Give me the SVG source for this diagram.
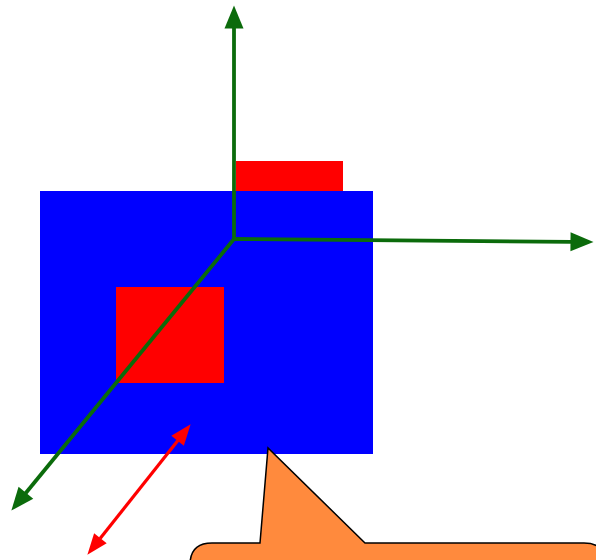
<svg xmlns="http://www.w3.org/2000/svg" width="596" height="560" viewBox="0 0 596 560">
<style>
.ax{stroke:#0b6b0b;stroke-width:3.8;fill:none}
.rd{stroke:#ff0000;stroke-width:3.2;fill:none}
</style>
<defs>
<marker id="ga" markerUnits="userSpaceOnUse" markerWidth="26" markerHeight="22" viewBox="0 -11 24 22" refX="0.5" refY="0" orient="auto">
<path d="M0,-9.5 L23,0 L0,9.5 z" fill="#0b6b0b"/>
</marker>
<marker id="ra" markerUnits="userSpaceOnUse" markerWidth="23" markerHeight="20" viewBox="0 -10 22 20" refX="0.5" refY="0" orient="auto">
<path d="M0,-8 L21,0 L0,8 z" fill="#ff0000"/>
</marker>
<marker id="rs" markerUnits="userSpaceOnUse" markerWidth="23" markerHeight="20" viewBox="0 -10 22 20" refX="21.5" refY="0" orient="auto">
<path d="M22,-8 L1,0 L22,8 z" fill="#ff0000"/>
</marker>
</defs>
<g id="topRect"><rect x="236" y="161" width="107" height="31" fill="#ff0000"/></g>
<g id="blueRect"><rect x="40" y="191" width="333" height="263" fill="#0000ff"/></g>
<g id="redSquare"><rect x="116" y="287" width="108" height="96" fill="#ff0000"/></g>
<g id="callout"><path d="M212,543 L260,543 L268,448 L365,543 L584,543 Q606,543 606,565 L606,600 L190,600 L190,565 Q190,543 212,543 Z" fill="#ff8a3d" stroke="#000" stroke-width="1.5"/></g>
<g id="connectors">
<line class="ax" x1="234" y1="239" x2="234" y2="28" marker-end="url(#ga)"/>
<line class="ax" x1="233" y1="239" x2="571" y2="241.8" marker-end="url(#ga)"/>
<line class="ax" x1="234" y1="239" x2="25.6" y2="493.2" marker-end="url(#ga)"/>
<line class="rd" x1="177.9" y1="440.4" x2="100.1" y2="538.6" marker-start="url(#rs)" marker-end="url(#ra)"/>
</g>
</svg>
